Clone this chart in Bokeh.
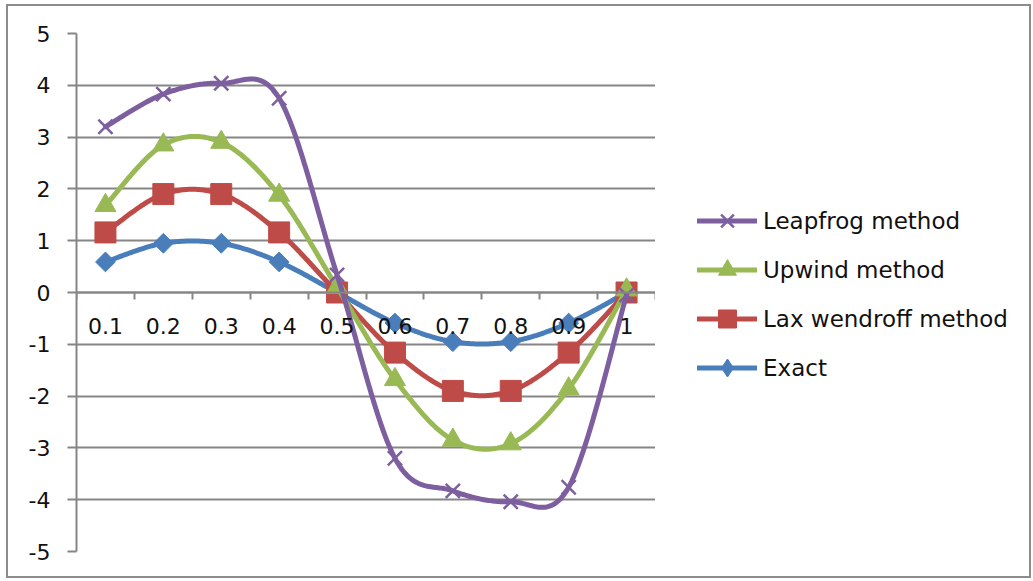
import numpy as np
from bokeh.plotting import figure
from bokeh.layouts import row
from bokeh.models import Range1d, FixedTicker, LinearAxis, Legend, LegendItem
from bokeh.embed import file_html
from bokeh.resources import INLINE

# Sample points along x and the four solutions
x_labels = ["0.1", "0.2", "0.3", "0.4", "0.5", "0.6", "0.7", "0.8", "0.9", "1"]
exact = [0.59, 0.95, 0.95, 0.59, 0.0, -0.59, -0.95, -0.95, -0.59, 0.0]
lax_wendroff = [1.16, 1.90, 1.90, 1.16, 0.0, -1.16, -1.90, -1.90, -1.16, 0.0]
upwind = [1.68, 2.85, 2.90, 1.88, 0.10, -1.68, -2.85, -2.92, -1.86, 0.05]
leapfrog = [3.20, 3.83, 4.04, 3.75, 0.34, -3.20, -3.83, -4.04, -3.76, -0.05]
y_ticks = list(range(-5, 6))

GRID = "#868686"
FONT = "DejaVu Sans"
FSIZE = "22px"
TEXT = "#111111"

xs = np.arange(1, len(x_labels) + 1, dtype=float)


def smooth(x, y, n=40):
    """Cubic Bezier smoothing through every point (Catmull-Rom style tangents)."""
    P = np.column_stack([x, y]).astype(float)
    out = []
    for i in range(len(P) - 1):
        p0 = P[i - 1] if i > 0 else P[i]
        p1, p2 = P[i], P[i + 1]
        p3 = P[i + 2] if i + 2 < len(P) else P[i + 1]
        c1 = p1 + (p2 - p0) / 6.0
        c2 = p2 - (p3 - p1) / 6.0
        t = np.linspace(0, 1, n)[:, None]
        seg = (1 - t) ** 3 * p1 + 3 * (1 - t) ** 2 * t * c1 + 3 * (1 - t) * t ** 2 * c2 + t ** 3 * p2
        out.append(seg if i == 0 else seg[1:])
    arr = np.vstack(out)
    return arr[:, 0], arr[:, 1]


p = figure(
    width=647, height=570,
    x_range=Range1d(0.5, len(x_labels) + 0.5),
    y_range=Range1d(-5, 5),
    output_backend="svg", toolbar_location=None,
    min_border_left=68, min_border_right=0,
    min_border_top=27, min_border_bottom=25,
    x_axis_type=None,
)
p.outline_line_color = None
p.background_fill_color = "white"
p.border_fill_color = "white"

# y axis (plain hyphen minus signs)
p.yaxis.ticker = FixedTicker(ticks=y_ticks)
p.yaxis.major_label_overrides = {t: str(t) for t in y_ticks}
p.yaxis.axis_line_color = GRID
p.yaxis.axis_line_width = 2
p.yaxis.major_tick_line_color = GRID
p.yaxis.major_tick_line_width = 2
p.yaxis.major_tick_out = 9
p.yaxis.major_tick_in = 0
p.yaxis.minor_tick_line_color = None
p.yaxis.major_label_text_font = FONT
p.yaxis.major_label_text_font_size = FSIZE
p.yaxis.major_label_text_color = TEXT
p.yaxis.major_label_standoff = 17

p.xgrid.grid_line_color = None
p.ygrid.ticker = FixedTicker(ticks=y_ticks)
p.ygrid.grid_line_color = GRID
p.ygrid.grid_line_width = 2

# category x axis crossing at y = 0: boundary ticks, then centred labels
bounds_axis = LinearAxis(
    fixed_location=0,
    ticker=FixedTicker(ticks=list(np.arange(0.5, len(x_labels) + 1, 1.0))),
    axis_line_color=GRID, axis_line_width=2,
    major_tick_line_color=GRID, major_tick_line_width=2,
    major_tick_out=7, major_tick_in=0,
    minor_tick_line_color=None,
    major_label_text_alpha=0, major_label_text_font_size="1px",
)
label_axis = LinearAxis(
    fixed_location=0,
    ticker=FixedTicker(ticks=list(xs)),
    axis_line_color=None,
    major_tick_line_color=None, minor_tick_line_color=None,
    major_label_overrides={float(v): s for v, s in zip(xs, x_labels)},
    major_label_text_font=FONT,
    major_label_text_font_size=FSIZE,
    major_label_text_color=TEXT,
    major_label_standoff=19,
)
p.add_layout(bounds_axis, "below")
p.add_layout(label_axis, "below")

# name, values, colour, marker in the plot, marker in the key
series = [
    ("Exact", exact, "#4A7EBB",
     dict(marker="square", size=14, angle=np.pi / 4), dict(marker="diamond")),
    ("Lax wendroff method", lax_wendroff, "#BE4B48",
     dict(marker="square", size=21), dict(marker="square")),
    ("Upwind method", upwind, "#98B954",
     dict(marker="triangle", size=21), dict(marker="triangle")),
    ("Leapfrog method", leapfrog, "#7D5FA0",
     dict(marker="x", size=20, line_width=2.5), dict(marker="x", line_width=2.5)),
]

# Legend panel to the right of the plot area; its proxy glyphs sit outside its view
key = figure(
    width=374, height=570,
    x_range=Range1d(-2, -1), y_range=Range1d(-20, -19),
    output_backend="svg", toolbar_location=None,
    min_border=0, x_axis_type=None, y_axis_type=None,
)
key.outline_line_color = None
key.grid.grid_line_color = None

items = {}
for name, ys, color, mk, kmk in series:
    sx, sy = smooth(xs, ys)
    p.line(sx, sy, line_color=color, line_width=5, line_join="round", line_cap="round")
    p.scatter(xs, ys, fill_color=color, line_color=color, **mk)
    kl = key.line(xs, ys, line_color=color, line_width=5, line_cap="round")
    ks = key.scatter(xs, ys, fill_color=color, line_color=color, **kmk)
    items[name] = LegendItem(label=name, renderers=[kl, ks])

legend = Legend(
    items=[items["Leapfrog method"], items["Upwind method"],
           items["Lax wendroff method"], items["Exact"]],
    location=(42, 161),
    margin=0, padding=0,
    glyph_width=60, glyph_height=45, label_height=30,
    spacing=4, label_standoff=6,
    label_text_font=FONT, label_text_font_size="23px", label_text_color=TEXT,
    border_line_color=None, background_fill_alpha=0,
)
key.add_layout(legend, "center")

layout = row(p, key)
layout.styles = {"border": "2px solid #8c8c8c", "margin-left": "6px", "margin-top": "4px"}

open("out.html", "w").write(file_html(layout, INLINE))
